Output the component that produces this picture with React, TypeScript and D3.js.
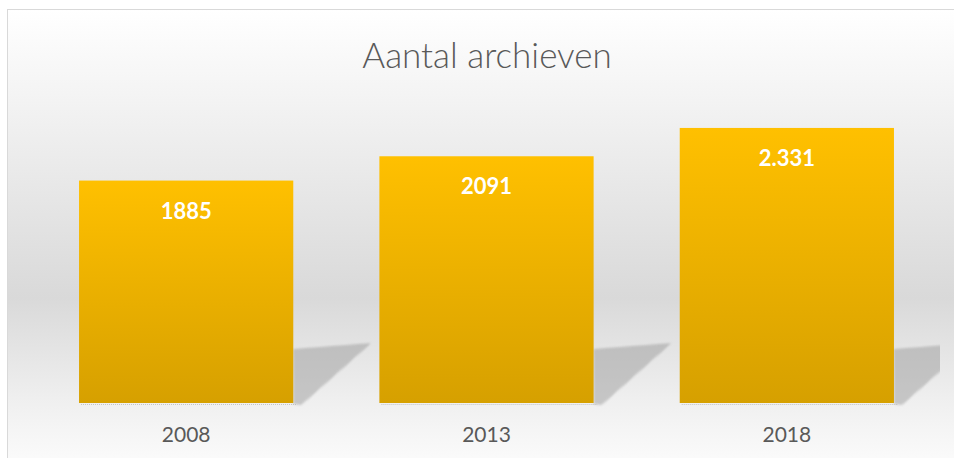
import React from 'react';
import * as d3 from 'd3';

const categories = ['2008', '2013', '2018'];
const values = [1885, 2091, 2331];
const valueLabels = ['1885', '2091', '2.331'];
const chartTitle = 'Aantal archieven';

const width = 954;
const height = 458;

export default function App() {
  const margin = { top: 108, bottom: 55, left: 36, right: 17 };
  const plotBottom = height - margin.bottom; // 403

  const xScale = d3
    .scaleBand()
    .domain(categories)
    .range([margin.left, width - margin.right])
    .paddingInner(0.2867)
    .paddingOuter(0.1433);

  const yScale = d3.scaleLinear().domain([0, 2500]).range([plotBottom, margin.top]);

  const bw = xScale.bandwidth();

  return (
    <svg
      width={width}
      height={height}
      style={{ position: 'absolute', left: 0, top: 0, display: 'block' }}
    >
      <defs>
        <linearGradient id="bg" x1="0" y1="0" x2="0" y2="1">
          <stop offset="0" stopColor="#ffffff" />
          <stop offset="0.2" stopColor="#f3f3f3" />
          <stop offset="0.63" stopColor="#d9d9d9" />
          <stop offset="0.85" stopColor="#efefef" />
          <stop offset="1" stopColor="#fcfcfc" />
        </linearGradient>
        <linearGradient id="bar" x1="0" y1="0" x2="0" y2="1">
          <stop offset="0" stopColor="#ffc000" />
          <stop offset="1" stopColor="#d6a000" />
        </linearGradient>
        <pattern id="dots" width="2" height="2" patternUnits="userSpaceOnUse">
          <rect width="1" height="1" fill="#808080" />
          <rect x="1" y="1" width="1" height="1" fill="#9a9a9a" />
        </pattern>
        <filter id="soft" x="-20%" y="-20%" width="140%" height="140%">
          <feGaussianBlur stdDeviation="1" />
        </filter>
        <clipPath id="chartClip">
          <rect x={8} y={10} width={932} height={height} />
        </clipPath>
      </defs>

      <rect x={0} y={0} width={width} height={height} fill="#ffffff" />
      <rect
        x={7.5}
        y={9.5}
        width={width + 10}
        height={height}
        fill="url(#bg)"
        stroke="#d9d9d9"
        strokeWidth={1}
      />

      <text
        x={487}
        y={68}
        textAnchor="middle"
        fontFamily="Lato, 'Open Sans', sans-serif"
        fontWeight={300}
        fontSize={35}
        fill="#595959"
      >
        {chartTitle}
      </text>

      <g clipPath="url(#chartClip)">
        {categories.map((c) => {
          const x0 = xScale(c)! + bw;
          const b = plotBottom;
          const pts = [
            [x0, b + 1],
            [x0, b - 54],
            [x0 + 78, b - 60],
            [x0 + 8, b + 2],
          ]
            .map((p) => p.join(','))
            .join(' ');
          return (
            <g key={'sh' + c} filter="url(#soft)" opacity={0.85}>
              <polygon points={pts} fill="url(#dots)" />
            </g>
          );
        })}
        {categories.map((c) => (
          <line
            key={'base' + c}
            x1={xScale(c)! + 2}
            x2={xScale(c)! + bw + 4}
            y1={plotBottom + 1.5}
            y2={plotBottom + 1.5}
            stroke="#b0b0b0"
            strokeDasharray="1 1"
            opacity={0.7}
          />
        ))}
      </g>

      {categories.map((c, i) => (
        <rect
          key={'bar' + c}
          x={xScale(c)}
          y={yScale(values[i])}
          width={bw}
          height={plotBottom - yScale(values[i])}
          fill="url(#bar)"
        />
      ))}

      {categories.map((c, i) => (
        <text
          key={'lbl' + c}
          x={xScale(c)! + bw / 2}
          y={yScale(values[i]) + 38}
          textAnchor="middle"
          fontFamily="Lato, 'Open Sans', sans-serif"
          fontWeight={700}
          fontSize={22}
          fill="#ffffff"
        >
          {valueLabels[i]}
        </text>
      ))}

      {categories.map((c) => (
        <text
          key={'ax' + c}
          x={xScale(c)! + bw / 2}
          y={442}
          textAnchor="middle"
          fontFamily="Lato, 'Open Sans', sans-serif"
          fontSize={21}
          fill="#595959"
        >
          {c}
        </text>
      ))}
    </svg>
  );
}
